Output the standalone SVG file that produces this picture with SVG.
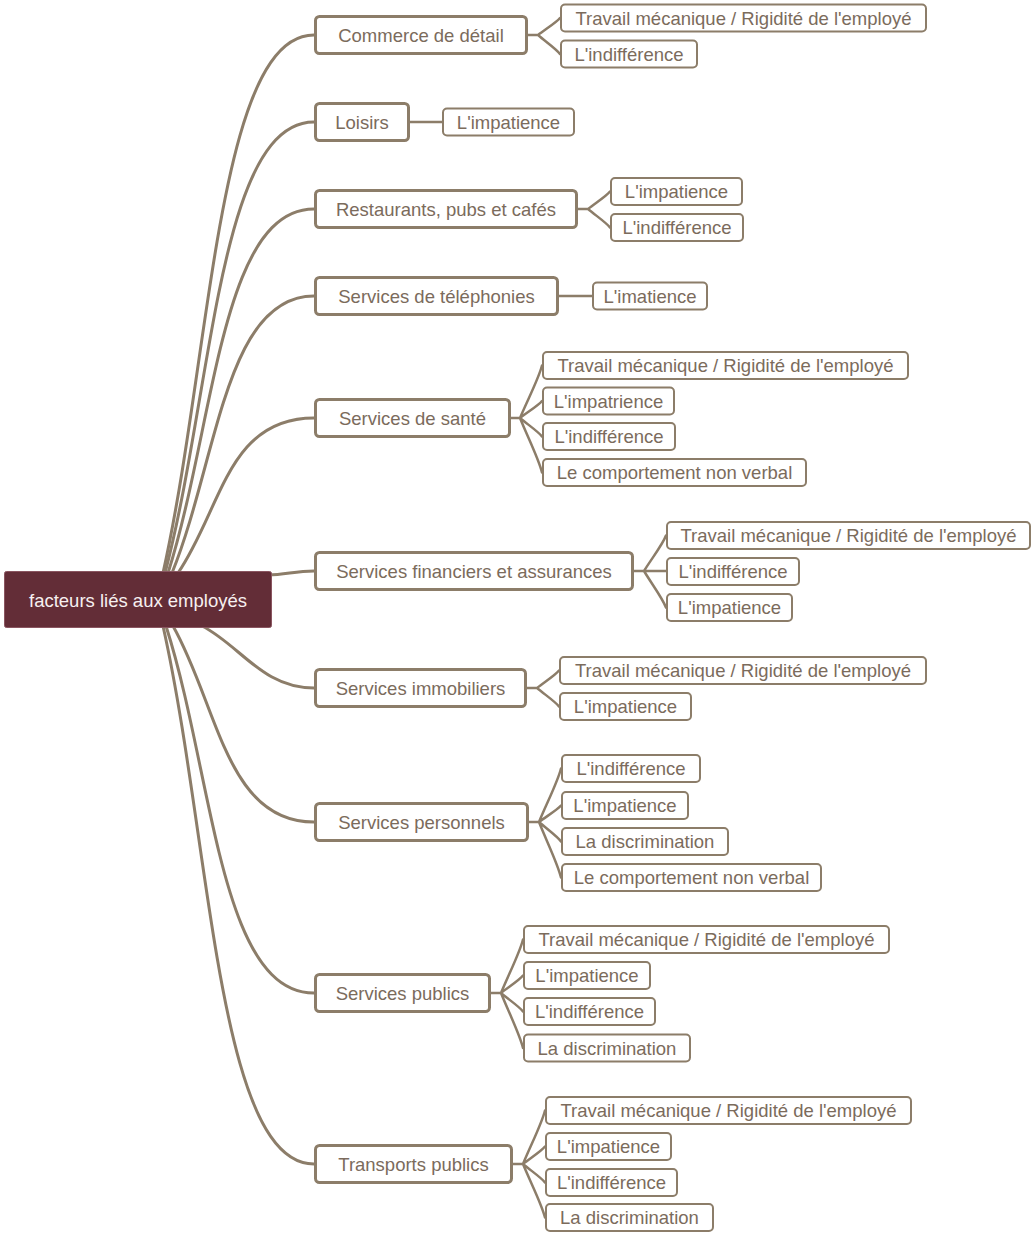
<svg xmlns="http://www.w3.org/2000/svg" width="1032" height="1234" viewBox="0 0 1032 1234">
<style>
text{font-family:"Liberation Sans",Arial,sans-serif;font-size:18.5px;text-anchor:middle}
.cat rect{fill:#fff;stroke:#8c7d69;stroke-width:3}
.leaf rect{fill:#fff;stroke:#8c7d69;stroke-width:2}
.cat text,.leaf text{fill:#7b6b5c}
.conn path{fill:none;stroke:#8c7d69;stroke-width:3;stroke-linecap:round}
.conn .s path{stroke-width:2.5}
</style>
<rect width="1032" height="1234" fill="#fff"/>
<g class="conn" id="connectors">
<path d="M163 573 C211.3 356.6 217.4 35 314 35"/>
<path d="M165 573 C212.7 391.4 218.6 122 314 122"/>
<path d="M168 573 C214.7 426.2 220.6 209 314 209"/>
<path d="M172 573 C217.4 461 225 296 314 296"/>
<path d="M178 573 C221.5 509.8 227 418 314 418"/>
<path d="M268 575 C285 575 295 571 314 571"/>
<path d="M202 626 C240 645 262 688 314 688"/>
<path d="M173 626 C218.1 705.6 226 822 314 822"/>
<path d="M166 626 C213.4 774 219.3 993 314 993"/>
<path d="M163 626 C211.3 842.4 217.4 1164 314 1164"/>
<g class="s">
<path d="M528 35 H538 C545.7 29.05 556.7 22.25 560 18 M538 35 C545.7 41.65 556.7 49.25 560 54"/>
<path d="M410 122 H442"/>
<path d="M578 209 H588 C595.7 202.9 606.7 195.9 610 191.5 M588 209 C595.7 215.5 606.7 222.9 610 227.5"/>
<path d="M559 296 H592"/>
<path d="M511 418 H520 C527.7 399.6 538.7 378.6 542 365.5 M520 418 C527.7 412 538.7 405.25 542 401 M520 418 C527.7 424.5 538.7 431.9 542 436.5 M520 418 C527.7 437.1 538.7 458.9 542 472.5"/>
<path d="M634 571 H666 M644 571 C651.7 558.6 662.7 544.4 666 535.5 M644 571 C651.7 583.8 662.7 598.4 666 607.5"/>
<path d="M527 688 H537 C544.7 681.9 555.7 674.9 559 670.5 M537 688 C544.7 694.5 555.7 701.9 559 706.5"/>
<path d="M529 822 H539 C546.7 803.3 557.7 781.9 561 768.5 M539 822 C546.7 816.2 557.7 809.6 561 805.5 M539 822 C546.7 828.8 557.7 836.6 561 841.5 M539 822 C546.7 841.4 557.7 863.6 561 877.5"/>
<path d="M491 993 H501 C508.7 974.3 519.7 952.9 523 939.5 M501 993 C508.7 986.9 519.7 979.9 523 975.5 M501 993 C508.7 999.5 519.7 1006.9 523 1011.5 M501 993 C508.7 1012.25 519.7 1034.25 523 1048"/>
<path d="M513 1164 H523 C530.7 1145.3 541.7 1123.9 545 1110.5 M523 1164 C530.7 1157.9 541.7 1150.9 545 1146.5 M523 1164 C530.7 1170.5 541.7 1177.9 545 1182.5 M523 1164 C530.7 1182.7 541.7 1204.1 545 1217.5"/>
</g>
</g>
<g id="root">
<rect x="4.5" y="571.5" width="267" height="56" rx="2" fill="#632d37" stroke="#8a5560" stroke-width="1"/>
<text x="138" y="606.5" fill="#f7f0f0">facteurs liés aux employés</text>
</g>
<g class="cat" id="c1"><rect x="315.5" y="16.5" width="211" height="37" rx="4"/><text x="421" y="41.5">Commerce de détail</text></g>
<g class="cat" id="c2"><rect x="315.5" y="103.5" width="93" height="37" rx="4"/><text x="362" y="128.5">Loisirs</text></g>
<g class="cat" id="c3"><rect x="315.5" y="190.5" width="261" height="37" rx="4"/><text x="446" y="215.5">Restaurants, pubs et cafés</text></g>
<g class="cat" id="c4"><rect x="315.5" y="277.5" width="242" height="37" rx="4"/><text x="436.5" y="302.5">Services de téléphonies</text></g>
<g class="cat" id="c5"><rect x="315.5" y="399.5" width="194" height="37" rx="4"/><text x="412.5" y="424.5">Services de santé</text></g>
<g class="cat" id="c6"><rect x="315.5" y="552.5" width="317" height="37" rx="4"/><text x="474" y="577.5">Services financiers et assurances</text></g>
<g class="cat" id="c7"><rect x="315.5" y="669.5" width="210" height="37" rx="4"/><text x="420.5" y="694.5">Services immobiliers</text></g>
<g class="cat" id="c8"><rect x="315.5" y="803.5" width="212" height="37" rx="4"/><text x="421.5" y="828.5">Services personnels</text></g>
<g class="cat" id="c9"><rect x="315.5" y="974.5" width="174" height="37" rx="4"/><text x="402.5" y="999.5">Services publics</text></g>
<g class="cat" id="c10"><rect x="315.5" y="1145.5" width="196" height="37" rx="4"/><text x="413.5" y="1170.5">Transports publics</text></g>

<g class="leaf" id="l1a"><rect x="561" y="4.5" width="365" height="27" rx="4"/><text x="743.5" y="24.5">Travail mécanique / Rigidité de l'employé</text></g>
<g class="leaf" id="l1b"><rect x="561" y="40.5" width="136" height="27" rx="4"/><text x="629" y="60.5">L'indifférence</text></g>
<g class="leaf" id="l2a"><rect x="443" y="108.5" width="131" height="27" rx="4"/><text x="508.5" y="128.5">L'impatience</text></g>
<g class="leaf" id="l3a"><rect x="611" y="178" width="131" height="27" rx="4"/><text x="676.5" y="198">L'impatience</text></g>
<g class="leaf" id="l3b"><rect x="611" y="214" width="132" height="27" rx="4"/><text x="677" y="234">L'indifférence</text></g>
<g class="leaf" id="l4a"><rect x="593" y="282.5" width="114" height="27" rx="4"/><text x="650" y="302.5">L'imatience</text></g>
<g class="leaf" id="l5a"><rect x="543" y="352" width="365" height="27" rx="4"/><text x="725.5" y="372">Travail mécanique / Rigidité de l'employé</text></g>
<g class="leaf" id="l5b"><rect x="543" y="387.5" width="131" height="27" rx="4"/><text x="608.5" y="407.5">L'impatrience</text></g>
<g class="leaf" id="l5c"><rect x="543" y="423" width="132" height="27" rx="4"/><text x="609" y="443">L'indifférence</text></g>
<g class="leaf" id="l5d"><rect x="543" y="459" width="263" height="27" rx="4"/><text x="674.5" y="479">Le comportement non verbal</text></g>
<g class="leaf" id="l6a"><rect x="667" y="522" width="363" height="27" rx="4"/><text x="848.5" y="542">Travail mécanique / Rigidité de l'employé</text></g>
<g class="leaf" id="l6b"><rect x="667" y="558" width="132" height="27" rx="4"/><text x="733" y="578">L'indifférence</text></g>
<g class="leaf" id="l6c"><rect x="667" y="594" width="125" height="27" rx="4"/><text x="729.5" y="614">L'impatience</text></g>
<g class="leaf" id="l7a"><rect x="560" y="657" width="366" height="27" rx="4"/><text x="743" y="677">Travail mécanique / Rigidité de l'employé</text></g>
<g class="leaf" id="l7b"><rect x="560" y="693" width="131" height="27" rx="4"/><text x="625.5" y="713">L'impatience</text></g>
<g class="leaf" id="l8a"><rect x="562" y="755" width="138" height="27" rx="4"/><text x="631" y="775">L'indifférence</text></g>
<g class="leaf" id="l8b"><rect x="562" y="792" width="126" height="27" rx="4"/><text x="625" y="812">L'impatience</text></g>
<g class="leaf" id="l8c"><rect x="562" y="828" width="166" height="27" rx="4"/><text x="645" y="848">La discrimination</text></g>
<g class="leaf" id="l8d"><rect x="562" y="864" width="259" height="27" rx="4"/><text x="691.5" y="884">Le comportement non verbal</text></g>
<g class="leaf" id="l9a"><rect x="524" y="926" width="365" height="27" rx="4"/><text x="706.5" y="946">Travail mécanique / Rigidité de l'employé</text></g>
<g class="leaf" id="l9b"><rect x="524" y="962" width="126" height="27" rx="4"/><text x="587" y="982">L'impatience</text></g>
<g class="leaf" id="l9c"><rect x="524" y="998" width="131" height="27" rx="4"/><text x="589.5" y="1018">L'indifférence</text></g>
<g class="leaf" id="l9d"><rect x="524" y="1034.5" width="166" height="27" rx="4"/><text x="607" y="1054.5">La discrimination</text></g>
<g class="leaf" id="l10a"><rect x="546" y="1097" width="365" height="27" rx="4"/><text x="728.5" y="1117">Travail mécanique / Rigidité de l'employé</text></g>
<g class="leaf" id="l10b"><rect x="546" y="1133" width="125" height="27" rx="4"/><text x="608.5" y="1153">L'impatience</text></g>
<g class="leaf" id="l10c"><rect x="546" y="1169" width="131" height="27" rx="4"/><text x="611.5" y="1189">L'indifférence</text></g>
<g class="leaf" id="l10d"><rect x="546" y="1204" width="167" height="27" rx="4"/><text x="629.5" y="1224">La discrimination</text></g>
</svg>
